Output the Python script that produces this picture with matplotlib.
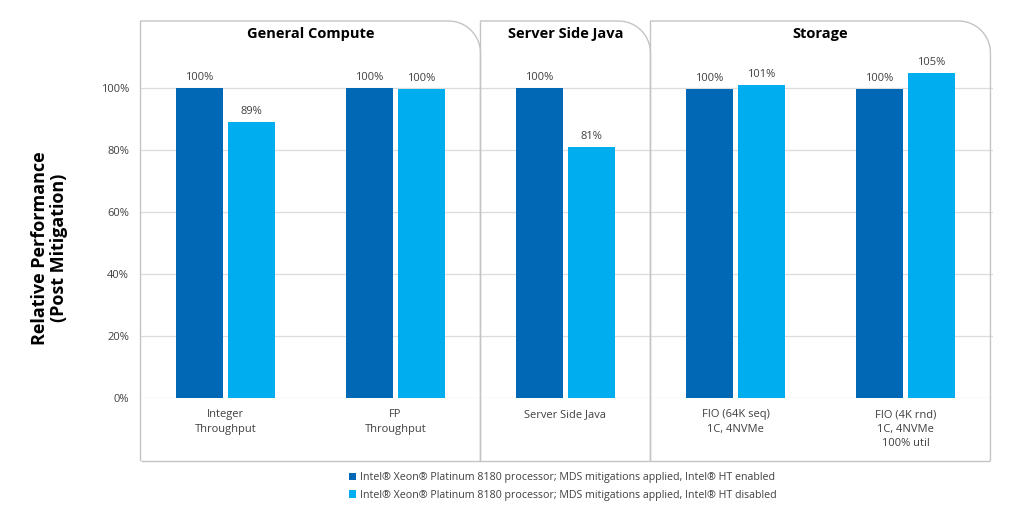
import numpy as np
import matplotlib
matplotlib.use("Agg")
import matplotlib.pyplot as plt
from matplotlib.path import Path
from matplotlib.patches import PathPatch
from matplotlib.transforms import IdentityTransform

# ---------------- data ----------------
categories = ["Integer\nThroughput", "FP\nThroughput", "Server Side Java",
              "FIO (64K seq)\n1C, 4NVMe", "FIO (4K rnd)\n1C, 4NVMe\n100% util"]
ht_enabled = [100, 100, 100, 99.6, 99.8]
ht_disabled = [89, 99.7, 81, 101, 105]
enabled_labels = ["100%", "100%", "100%", "100%", "100%"]
disabled_labels = ["89%", "100%", "81%", "101%", "105%"]
groups = ["General Compute", "Server Side Java", "Storage"]
group_sizes = [2, 1, 2]
series_names = [
    "Intel\u00ae Xeon\u00ae Platinum 8180 processor; MDS mitigations applied, Intel\u00ae HT enabled",
    "Intel\u00ae Xeon\u00ae Platinum 8180 processor; MDS mitigations applied, Intel\u00ae HT disabled",
]
yticks = [0, 20, 40, 60, 80, 100]

# ---------------- style ----------------
plt.rcParams['font.family'] = ['Open Sans', 'DejaVu Sans']
DARK = "#0068b5"
LIGHT = "#00aeef"
TXT = "#404040"
BORDER = "#c4c4c4"
GRID = "#dcdcdc"

W, H = 1024, 525
fig = plt.figure(figsize=(W / 100, H / 100), dpi=100)
ax = fig.add_axes([140 / W, 1 - 398 / H, (993 - 140) / W, (398 - 21) / H])

x = np.arange(len(categories))
bw = 0.277
off = 0.153
b1 = ax.bar(x - off, ht_enabled, bw, color=DARK, label=series_names[0], zorder=3)
b2 = ax.bar(x + off, ht_disabled, bw, color=LIGHT, label=series_names[1], zorder=3)

for xi, v, lab in zip(x - off, ht_enabled, enabled_labels):
    ax.annotate(lab, (xi, v), xytext=(0, 3.5), textcoords='offset points',
                ha='center', va='bottom', fontsize=8, color=TXT)
for xi, v, lab in zip(x + off, ht_disabled, disabled_labels):
    ax.annotate(lab, (xi, v), xytext=(0, 3.5), textcoords='offset points',
                ha='center', va='bottom', fontsize=8, color=TXT)

ax.set_xlim(-0.503, 4.515)
ax.set_ylim(0, (398 - 21) / 3.1)
ax.set_yticks(yticks)
ax.set_yticklabels([f"{v}%" for v in yticks], fontsize=8, color=TXT)
ax.set_xticks(x)
ax.set_xticklabels(categories, fontsize=8, color=TXT, linespacing=1.45, va='top')
ax.tick_params(axis='both', length=0)
ax.tick_params(axis='y', pad=8)
ax.tick_params(axis='x', pad=8)
for s in ax.spines.values():
    s.set_visible(False)
ax.set_axisbelow(True)
ax.yaxis.grid(True, color=GRID, lw=0.9)
ax.patch.set_alpha(0)

ax.set_ylabel("Relative Performance\n(Post Mitigation)", fontsize=13,
              fontweight='bold', color='black', linespacing=1.1, labelpad=0)
ax.yaxis.set_label_coords(-72 / 853, (398 - 248) / 377)

# ---------------- group panels ----------------
fig.canvas.draw()
bounds = np.concatenate([[-0.5], np.cumsum(group_sizes) - 0.5])
px = ax.transData.transform(np.column_stack([bounds, np.zeros_like(bounds)]))[:, 0]
top_px = H - 21
bot_px = H - 461
r = 32
for i, g in enumerate(groups):
    x0, x1 = px[i], px[i + 1]
    th = np.linspace(np.pi / 2, 0, 20)
    arc = np.column_stack([x1 - r + r * np.cos(th), top_px - r + r * np.sin(th)])
    verts = np.vstack([[x0, bot_px], [x0, top_px], arc, [x1, bot_px]])
    patch = PathPatch(Path(verts), fill=False, edgecolor=BORDER, lw=1.0,
                      transform=IdentityTransform(), zorder=1)
    fig.add_artist(patch)
    fig.text((x0 + x1) / 2 / W, 1 - 34 / H, g, ha='center', va='center',
             fontsize=10.5, fontweight='bold', color='black')
bottom = PathPatch(Path([[px[0], bot_px], [px[-1], bot_px]]), fill=False,
                   edgecolor=BORDER, lw=1.0, transform=IdentityTransform())
fig.add_artist(bottom)

leg = fig.legend(handles=[b1, b2], loc='upper left', bbox_to_anchor=(349 / W, 1 - 472 / H),
                 frameon=False, fontsize=7.7, handlelength=0.7, handleheight=0.7,
                 handletextpad=0.3, labelspacing=0.65, borderaxespad=0, borderpad=0)
for t in leg.get_texts():
    t.set_color(TXT)

fig.savefig("out.png", dpi=100, facecolor='white')
